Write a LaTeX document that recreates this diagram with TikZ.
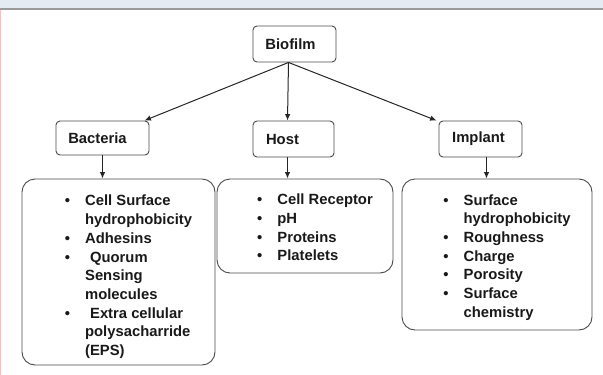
\documentclass[tikz,border=0pt]{standalone}
\usepackage{fontspec}
\setmainfont{Liberation Sans}
\usetikzlibrary{arrows.meta,positioning}
\definecolor{bandgray}{HTML}{E5EBF2}
\definecolor{rulegray}{HTML}{9A9A9A}
\definecolor{edgepink}{HTML}{F2C4C4}
\definecolor{boxline}{HTML}{4A4A4A}
% list body, set a little lower inside its box
\newcommand{\factorlist}[2]{\raisebox{-#1}[\height][\depth]{%
    \begin{tabular}{@{\hspace{20pt}}l@{\hspace{15pt}}l@{}}#2\end{tabular}}}

\begin{document}
\begin{tikzpicture}[x=1pt,y=-1pt,
    every node/.style={font=\fontsize{14.8}{18.7}\selectfont\bfseries, text=black!90},
    head/.style={draw=boxline, rectangle, rounded corners=4pt, line width=0.9pt, inner sep=0pt},
    listbox/.style={draw=boxline, rectangle, rounded corners=13pt, line width=0.9pt, inner sep=0pt, align=left},
    link/.style={-{Latex[length=6.5pt,width=5.5pt]}, line width=1pt, black!85}]

    \useasboundingbox (0,0) rectangle (603,375);
    % window frame round the figure
    \fill[bandgray] (0,0) rectangle (603,8);
    \draw[rulegray, line width=2pt] (0,9) -- (603,9);
    \draw[edgepink, line width=1.2pt] (0.6,10) -- (0.6,375);

    % Top and second level boxes
    \node[head, minimum width=83, minimum height=36] (bio) at (294.5,44) {Biofilm\hspace*{8pt}};
    \node[head, minimum width=93, minimum height=34] (bac) at (102.5,138) {Bacteria\hspace*{10pt}};
    \node[head, minimum width=81, minimum height=36] (host) at (293.5,139) {Host\hspace*{22pt}};
    \node[head, minimum width=83, minimum height=36] (imp) at (480.5,139) {Implant\hspace*{4pt}};

    % Factor lists
    \node[listbox, minimum width=193, minimum height=186] (blist) at (118.5,272) {%
        \factorlist{5pt}{%
            \textbullet & Cell Surface\\
                        & hydrophobicity\\
            \textbullet & Adhesins\\
            \textbullet & \hspace{5pt}Quorum\\
                        & Sensing\\
                        & molecules\\
            \textbullet & \hspace{5pt}Extra cellular\\
                        & polysacharride\\
                        & (EPS)}};
    \node[listbox, minimum width=176, minimum height=94] (hlist) at (305,226) {%
        \factorlist{3pt}{%
            \textbullet & Cell Receptor\\
            \textbullet & pH\\
            \textbullet & Proteins\\
            \textbullet & Platelets}};
    \node[listbox, minimum width=190, minimum height=151] (ilist) at (497,254.5) {%
        \factorlist{3pt}{%
            \textbullet & Surface\\
                        & hydrophobicity\\
            \textbullet & Roughness\\
            \textbullet & Charge\\
            \textbullet & Porosity\\
            \textbullet & Surface\\
                        & chemistry}};

    % Arrows
    \draw[link] ([xshift=-6pt]bio.south) -- ([xshift=-5pt]bac.north east);
    \draw[link] ([xshift=-6pt]bio.south) -- ([xshift=-6pt]host.north);
    \draw[link] ([xshift=-6pt]bio.south) -- ([xshift=-2pt]imp.north west);
    \draw[link] (bac.south) -- (bac.south |- blist.north);
    \draw[link] ([xshift=-6pt]host.south) -- ([xshift=-6pt]host.south |- hlist.north);
    \draw[link] ([xshift=6pt]imp.south) -- ([xshift=6pt]imp.south |- ilist.north);
\end{tikzpicture}
\end{document}
